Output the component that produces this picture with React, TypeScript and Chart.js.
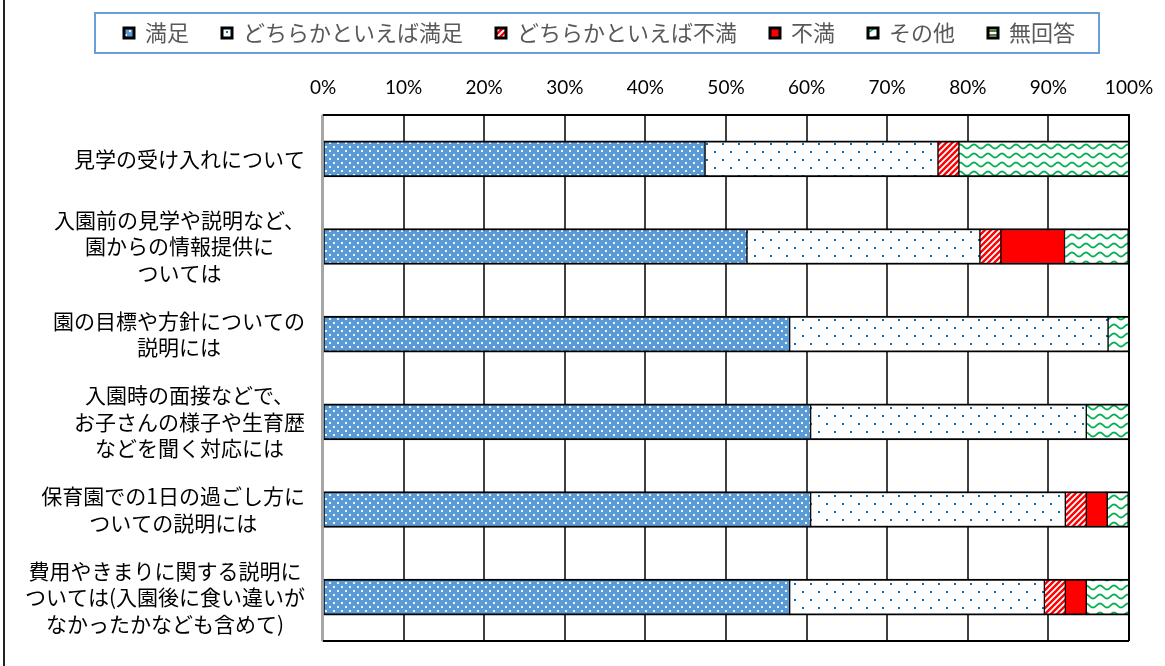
import React, { useEffect, useRef } from 'react';
import { Chart, registerables } from 'chart.js';

Chart.register(...registerables);

// ---- Data ----
const categories: string[][] = [
  ['見学の受け入れについて'],
  ['入園前の見学や説明など、', '園からの情報提供に', 'ついては'],
  ['園の目標や方針についての', '説明には'],
  ['入園時の面接などで、', 'お子さんの様子や生育歴', 'などを聞く対応には'],
  ['保育園での1日の過ごし方に', 'ついての説明には'],
  ['費用やきまりに関する説明に', 'ついては(入園後に食い違いが', 'なかったかなども含めて)'],
];

const seriesNames = ['満足', 'どちらかといえば満足', 'どちらかといえば不満', '不満', 'その他', '無回答'];

const satisfied = [47.4, 52.6, 57.9, 60.5, 60.5, 57.9];
const somewhatSatisfied = [28.9, 28.9, 39.5, 34.2, 31.6, 31.6];
const somewhatDissatisfied = [2.6, 2.6, 0, 0, 2.6, 2.6];
const dissatisfied = [0, 7.9, 0, 0, 2.6, 2.6];
const other = [21.1, 7.9, 2.6, 5.3, 2.6, 5.3];
const noAnswer = [0, 0, 0, 0, 0, 0];

const xTicks = [0, 10, 20, 30, 40, 50, 60, 70, 80, 90, 100];

// ---- Patterns ----
function makePattern(w: number, h: number, draw: (g: CanvasRenderingContext2D) => void) {
  const c = document.createElement('canvas');
  c.width = w;
  c.height = h;
  const g = c.getContext('2d')!;
  draw(g);
  const p = document.createElement('canvas').getContext('2d')!.createPattern(c, 'repeat');
  return p as CanvasPattern;
}

function buildFills() {
  const blueDots = makePattern(8, 8, (g) => {
    g.fillStyle = '#5B9BD5';
    g.fillRect(0, 0, 8, 8);
    g.fillStyle = 'rgba(255,255,255,0.9)';
    g.fillRect(1, 1, 2, 2);
    g.fillRect(5, 5, 2, 2);
  });
  const whiteDots = makePattern(16, 16, (g) => {
    g.fillStyle = '#FFFFFF';
    g.fillRect(0, 0, 16, 16);
    g.fillStyle = '#0070C0';
    g.fillRect(2, 2, 2, 2);
    g.fillRect(10, 10, 2, 2);
  });
  const redStripes = makePattern(6, 6, (g) => {
    g.fillStyle = '#FFFFFF';
    g.fillRect(0, 0, 6, 6);
    g.strokeStyle = '#FF0000';
    g.lineWidth = 2.4;
    g.beginPath();
    g.moveTo(-3, 3); g.lineTo(3, -3);
    g.moveTo(0, 6); g.lineTo(6, 0);
    g.moveTo(3, 9); g.lineTo(9, 3);
    g.stroke();
  });
  const greenWave = makePattern(14, 9, (g) => {
    g.fillStyle = '#FFFFFF';
    g.fillRect(0, 0, 14, 9);
    g.strokeStyle = '#00B050';
    g.lineWidth = 1.8;
    g.beginPath();
    for (let x = -1; x <= 15; x += 0.5) {
      const y = 4.5 - 2 * Math.cos((2 * Math.PI * x) / 14);
      if (x === -1) g.moveTo(x, y);
      else g.lineTo(x, y);
    }
    g.stroke();
  });
  const greenLines = makePattern(4, 4, (g) => {
    g.fillStyle = '#FFFFFF';
    g.fillRect(0, 0, 4, 4);
    g.fillStyle = '#548235';
    g.fillRect(0, 1, 4, 2);
  });
  return [blueDots, whiteDots, redStripes, '#FF0000', greenWave, greenLines];
}

// ---- Plugins ----
const yLabelPlugin = {
  id: 'yLabels',
  afterDraw(chart: any) {
    const ctx = chart.ctx as CanvasRenderingContext2D;
    const ys = chart.scales.y;
    const area = chart.chartArea;
    ctx.save();
    ctx.font = '21px "Noto Sans CJK JP"';
    ctx.fillStyle = '#000000';
    ctx.textAlign = 'center';
    ctx.textBaseline = 'middle';
    categories.forEach((lines, i) => {
      const y = ys.getPixelForValue(i);
      const w = Math.max(...lines.map((l) => ctx.measureText(l).width));
      const cx = area.left - 18 - w / 2;
      lines.forEach((l, j) => {
        ctx.fillText(l, cx, y + (j - (lines.length - 1) / 2) * 26.5);
      });
    });
    ctx.restore();
  },
};

const framePlugin = {
  id: 'frame',
  afterDatasetsDraw(chart: any) {
    const ctx = chart.ctx as CanvasRenderingContext2D;
    const a = chart.chartArea;
    ctx.save();
    ctx.strokeStyle = '#000000';
    ctx.lineWidth = 2;
    ctx.beginPath();
    ctx.moveTo(a.left, a.bottom);
    ctx.lineTo(a.right, a.bottom);
    ctx.moveTo(a.right, a.top);
    ctx.lineTo(a.right, a.bottom);
    ctx.moveTo(a.left, a.top);
    ctx.lineTo(a.right, a.top);
    ctx.stroke();
    ctx.strokeStyle = '#A6A6A6';
    ctx.beginPath();
    ctx.moveTo(a.left - 1, a.top);
    ctx.lineTo(a.left - 1, a.bottom);
    ctx.stroke();
    ctx.restore();
  },
};

const legendBoxPlugin = {
  id: 'legendBox',
  afterDraw(chart: any) {
    const lg = chart.legend;
    const hb = lg && lg.legendHitBoxes;
    if (!hb || !hb.length) return;
    const first = hb[0];
    const last = hb[hb.length - 1];
    const cc = (first.left + last.left + last.width) / 2;
    const ctx = chart.ctx as CanvasRenderingContext2D;
    ctx.save();
    ctx.strokeStyle = '#6A9FD6';
    ctx.lineWidth = 2;
    ctx.strokeRect(cc - 504.5, first.top - 9, 1004, first.height + 18);
    ctx.restore();
  },
};

export default function App() {
  const ref = useRef<HTMLCanvasElement>(null);

  useEffect(() => {
    document.body.style.overflow = 'hidden';
    const fills = buildFills();
    const values = [satisfied, somewhatSatisfied, somewhatDissatisfied, dissatisfied, other, noAnswer];
    const chart = new Chart(ref.current!, {
      type: 'bar',
      data: {
        labels: categories.map((c) => c.join('')),
        datasets: seriesNames.map((name, i) => ({
          label: name,
          data: values[i],
          backgroundColor: fills[i] as any,
          borderColor: '#000000',
          borderWidth: { top: 2, bottom: 2, left: 1, right: 1 },
          borderSkipped: false,
          barThickness: 36,
        })),
      },
      options: {
        indexAxis: 'y',
        animation: false,
        responsive: true,
        maintainAspectRatio: false,
        events: [],
        layout: { padding: { left: 62, right: 28, top: 0, bottom: 25 } },
        scales: {
          x: {
            position: 'top',
            stacked: true,
            min: 0,
            max: 100,
            afterBuildTicks: (s: any) => {
              s.ticks = xTicks.map((v) => ({ value: v }));
            },
            afterFit: (s: any) => {
              s.height = 61;
              s.paddingLeft = 0;
              s.paddingRight = 0;
            },
            ticks: {
              padding: 16,
              color: '#000000',
              font: { family: 'Lato', size: 19 },
              callback: (v: any) => `${v}%`,
            },
            grid: {
              drawTicks: false,
              color: (c: any) => (c.tick && c.tick.value === 0 ? '#A6A6A6' : '#404040'),
              lineWidth: 2,
            },
            border: { display: true, color: '#000000', width: 2 },
          },
          y: {
            stacked: true,
            afterFit: (s: any) => {
              s.width = 253;
            },
            ticks: { display: false },
            grid: { display: false },
            border: { display: true, color: '#A6A6A6', width: 2 },
          },
        },
        plugins: {
          tooltip: { enabled: false },
          legend: {
            display: true,
            position: 'top',
            labels: {
              boxWidth: 10,
              boxHeight: 10,
              padding: 33,
              color: '#595959',
              font: { family: '"Noto Sans CJK JP"', size: 22 },
              generateLabels: (ch: any) =>
                Chart.defaults.plugins.legend.labels
                  .generateLabels(ch)
                  .map((l: any) => ({ ...l, lineWidth: 3, strokeStyle: '#000000' })),
            },
          },
        },
      },
      plugins: [yLabelPlugin, framePlugin, legendBoxPlugin],
    } as any);
    return () => chart.destroy();
  }, []);

  return (
    <>
      <div
        style={{
          position: 'fixed',
          left: 3,
          top: 0,
          width: 2,
          height: 666,
          background: '#222222',
        }}
      />
      <div style={{ position: 'absolute', left: 8, top: -11, width: 1149, height: 677 }}>
        <canvas ref={ref} />
      </div>
    </>
  );
}
